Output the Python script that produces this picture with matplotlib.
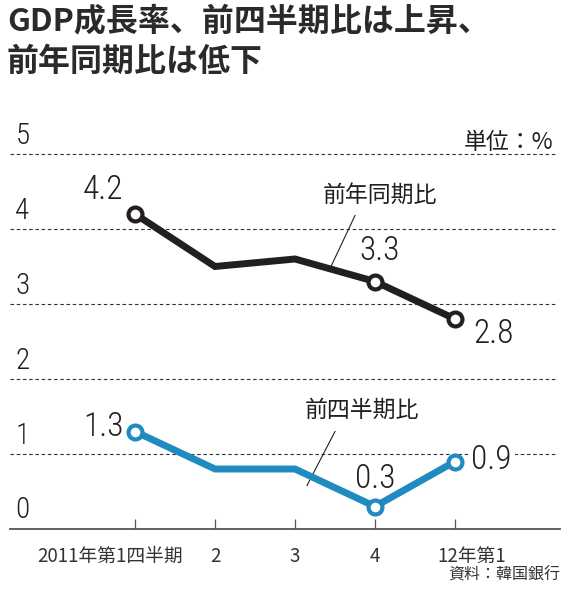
import matplotlib
matplotlib.use("Agg")
import matplotlib.pyplot as plt
from matplotlib.transforms import blended_transform_factory

plt.rcParams['font.family'] = ['Noto Sans CJK JP', 'DejaVu Sans']

quarters = ["2011年第1四半期", "2", "3", "4", "12年第1"]
yoy = [4.2, 3.5, 3.6, 3.3, 2.8]
qoq = [1.3, 0.8, 0.8, 0.3, 0.9]
yticks = [0, 1, 2, 3, 4, 5]

BLACK = "#231f20"
BLUE = "#1f8bc0"
NUM_FONT = ['Roboto Condensed', 'DejaVu Sans']

fig = plt.figure(figsize=(5.70, 5.89), dpi=100)
W, H = 570, 589
ax = fig.add_axes([10 / W, 1 - 529 / H, 550 / W, 380 / H])
ax.set_xlim(-1.5625, 5.3125)
ax.set_ylim(0, 380 / 75)

x = list(range(len(quarters)))

for sp in ['top', 'right', 'left']:
    ax.spines[sp].set_visible(False)
ax.spines['bottom'].set_color("#555555")
ax.spines['bottom'].set_linewidth(1.3)

# gridlines
for yv in yticks[1:]:
    ax.plot([-1.5625, 5.25], [yv, yv], ls=(0, (3.2, 2.4)), color="#333333", lw=0.8, zorder=1)

ax.set_yticks([])
ax.set_xticks(x)
ax.set_xticklabels([])
ax.tick_params(axis='x', direction='in', length=7.5, width=0.9, color="#555555")

# y tick labels
tr = blended_transform_factory(ax.transAxes, ax.transData)
for yv in yticks:
    ax.text(0.01, yv + 0.06, str(yv), transform=tr, ha='left', va='bottom',
            fontsize=21, family=NUM_FONT, fontweight='light', color=BLACK)

# x tick labels
offsets = [-18, 0, 0, 0, 12]
for xi, lab, off in zip(x, quarters, offsets):
    ax.annotate(lab, (xi, 0), xytext=(off, -12), textcoords='offset points',
                ha='center', va='top', fontsize=13.5, color="#333333",
                family=['Noto Sans CJK JP', 'DejaVu Sans'], annotation_clip=False)

# lines
ax.plot(x, yoy, color=BLACK, lw=5, solid_joinstyle='miter', zorder=3)
ax.plot(x, qoq, color=BLUE, lw=5, solid_joinstyle='miter', zorder=3)
for series, col in [(yoy, BLACK), (qoq, BLUE)]:
    idx = [0, 3, 4]
    ax.plot([x[i] for i in idx], [series[i] for i in idx], ls='none', marker='o',
            ms=10, mfc='white', mec=col, mew=3, zorder=4)

# value labels
def vlabel(i, series, dx, dy):
    ax.annotate(f"{series[i]:.1f}", (x[i], series[i]), xytext=(dx, dy),
                textcoords='offset points', ha='center', va='center', fontsize=24,
                family=NUM_FONT, fontweight='light', color=BLACK, zorder=2.5,
                bbox=dict(boxstyle='square,pad=0.1', fc='white', ec='none'))

vlabel(0, yoy, -23, 17)
vlabel(3, yoy, 3, 22)
vlabel(4, yoy, 28, -11)
vlabel(0, qoq, -23, 3)
vlabel(3, qoq, 0, 20)
vlabel(4, qoq, 26, 1)

# series labels with leader lines
ax.text(3.06, 4.45, "前年同期比", ha='center', va='center', fontsize=16.5, color=BLACK)
ax.plot([2.75, 2.45], [4.18, 3.5], color=BLACK, lw=0.8, zorder=2)
ax.text(2.84, 1.58, "前四半期比", ha='center', va='center', fontsize=16.5, color=BLACK)
ax.plot([2.5, 2.15], [1.3, 0.58], color=BLACK, lw=0.8, zorder=2)

# unit and source
fig.text(553 / W, 1 - 142 / H, "単位：%", ha='right', va='center', fontsize=16.5, color=BLACK)
fig.text(560 / W, 1 - 575 / H, "資料：韓国銀行", ha='right', va='center', fontsize=11.5, color="#333333")

# title
fig.text(7 / W, 1 - 21 / H, "GDP成長率、前四半期比は上昇、", ha='left', va='center',
         fontsize=23, fontweight='bold', color="#2a2a2a")
fig.text(7 / W, 1 - 62 / H, "前年同期比は低下", ha='left', va='center',
         fontsize=23, fontweight='bold', color="#2a2a2a")

fig.savefig("out.png", dpi=100)
